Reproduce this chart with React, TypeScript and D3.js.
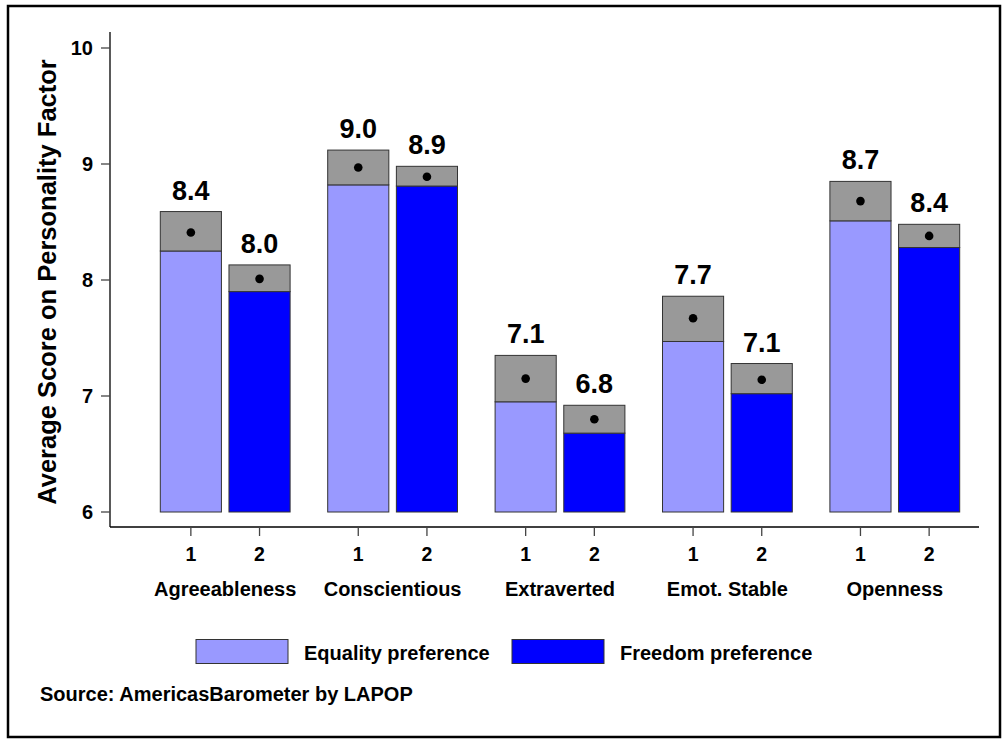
import React from "react";
import * as d3 from "d3";

const categories = ["Agreeableness", "Conscientious", "Extraverted", "Emot. Stable", "Openness"];
const groups = ["1", "2"];
const seriesNames = ["Equality preference", "Freedom preference"];
const seriesColors = ["#9999ff", "#0000ff"];

const equalityMean = [8.41, 8.97, 7.15, 7.67, 8.68];
const equalityLow = [8.25, 8.82, 6.95, 7.47, 8.51];
const equalityHigh = [8.59, 9.12, 7.35, 7.86, 8.85];
const equalityLabels = ["8.4", "9.0", "7.1", "7.7", "8.7"];

const freedomMean = [8.01, 8.89, 6.8, 7.14, 8.38];
const freedomLow = [7.9, 8.81, 6.68, 7.02, 8.28];
const freedomHigh = [8.13, 8.98, 6.92, 7.28, 8.48];
const freedomLabels = ["8.0", "8.9", "6.8", "7.1", "8.4"];

const yTicks = [6, 7, 8, 9, 10];
const yTitle = "Average Score on Personality Factor";
const sourceText = "Source: AmericasBarometer by LAPOP";

const W = 1007;
const H = 741;
const FONT = "'Liberation Sans', Arial, Helvetica, sans-serif";

export default function App() {
  const y = d3.scaleLinear().domain([6, 10]).range([512, 48]);
  const x0 = d3.scaleBand<string>().domain(categories).range([141.5, 978.5]).padding(0);
  const x1 = d3.scaleBand<string>().domain(groups).range([18.8, 148.6]).paddingInner(0.11).paddingOuter(0);

  const series = [
    { mean: equalityMean, low: equalityLow, high: equalityHigh, labels: equalityLabels },
    { mean: freedomMean, low: freedomLow, high: freedomHigh, labels: freedomLabels },
  ];

  const axisY = 527;
  const axisX = 110;

  return (
    <svg
      width={W}
      height={H}
      style={{ position: "absolute", left: 0, top: 0, background: "#fff" }}
      fontFamily={FONT}
    >
      <rect x={0} y={0} width={W} height={H} fill="#fff" />
      <rect x={8} y={6} width={992} height={731} fill="none" stroke="#000" strokeWidth={2.5} />

      {/* y axis */}
      <line x1={axisX} x2={axisX} y1={32} y2={axisY} stroke="#000" strokeWidth={1.3} />
      {yTicks.map((t) => (
        <g key={t}>
          <line x1={axisX - 9} x2={axisX} y1={y(t)} y2={y(t)} stroke="#444" strokeWidth={1.3} />
          <text x={93} y={y(t)} dy="0.35em" textAnchor="end" fontSize={20} fontWeight="bold" fill="#000">
            {t}
          </text>
        </g>
      ))}
      <text
        transform={`translate(56, ${(y(6) + y(10)) / 2 + 2}) rotate(-90)`}
        textAnchor="middle"
        fontSize={25.5}
        fontWeight="bold"
        fill="#000"
      >
        {yTitle}
      </text>

      {/* x axis */}
      <line x1={axisX} x2={979} y1={axisY} y2={axisY} stroke="#000" strokeWidth={1.3} />

      {categories.map((c, ci) => {
        const gx = x0(c)!;
        return (
          <g key={c}>
            {groups.map((g, si) => {
              const s = series[si];
              const bx = gx + x1(g)!;
              const bw = x1.bandwidth();
              const cx = bx + bw / 2;
              return (
                <g key={g}>
                  <rect
                    x={bx}
                    y={y(s.low[ci])}
                    width={bw}
                    height={y(6) - y(s.low[ci])}
                    fill={seriesColors[si]}
                    stroke="#333"
                    strokeWidth={1}
                  />
                  <rect
                    x={bx}
                    y={y(s.high[ci])}
                    width={bw}
                    height={y(s.low[ci]) - y(s.high[ci])}
                    fill="#999999"
                    stroke="#333"
                    strokeWidth={1}
                  />
                  <circle cx={cx} cy={y(s.mean[ci])} r={4.3} fill="#000" />
                  <text
                    x={cx}
                    y={y(s.high[ci]) - 12}
                    textAnchor="middle"
                    fontSize={27}
                    fontWeight="bold"
                    fill="#000"
                  >
                    {s.labels[ci]}
                  </text>
                  <line x1={cx} x2={cx} y1={axisY} y2={axisY + 9} stroke="#444" strokeWidth={1.3} />
                  <text x={cx} y={561} textAnchor="middle" fontSize={19.5} fontWeight="bold" fill="#000">
                    {g}
                  </text>
                </g>
              );
            })}
            <text
              x={gx + x0.bandwidth() / 2}
              y={596}
              textAnchor="middle"
              fontSize={20}
              fontWeight="bold"
              fill="#000"
            >
              {c}
            </text>
          </g>
        );
      })}

      {/* legend */}
      {seriesNames.map((n, i) => {
        const lx = [196, 512][i];
        return (
          <g key={n}>
            <rect x={lx} y={639.5} width={92} height={24} fill={seriesColors[i]} stroke="#333" strokeWidth={1} />
            <text x={lx + 108} y={660} fontSize={20} fontWeight="bold" fill="#000">
              {n}
            </text>
          </g>
        );
      })}

      <text x={40} y={701} fontSize={20} fontWeight="bold" fill="#000">
        {sourceText}
      </text>
    </svg>
  );
}
